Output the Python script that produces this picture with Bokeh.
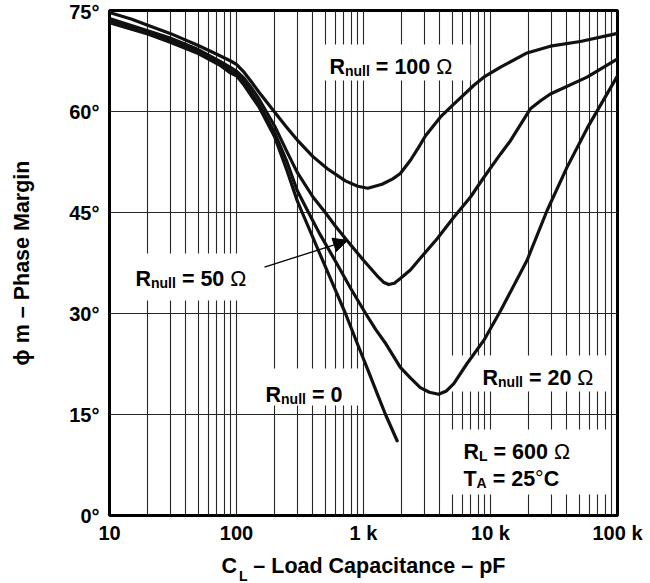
import math
from bokeh.plotting import figure
from bokeh.models import Label, Arrow, NormalHead, FixedTicker
from bokeh.embed import file_html
from bokeh.resources import INLINE

# ---------------- data ----------------
cap_r100 = [10, 15, 20, 30, 50, 70, 90, 100, 115, 130, 150, 200, 250, 300, 400, 520, 720, 900,
            1080, 1400, 1700, 1950, 2350, 2700, 3080, 4040, 5140, 7400, 8850, 12000, 19400, 29600,
            51000, 100000]
phase_r100 = [74.7, 73.7, 72.8, 71.6, 69.8, 68.5, 67.5, 67.0, 65.8, 64.5, 62.9, 59.9, 57.6, 55.8,
              53.3, 51.5, 49.7, 48.9, 48.6, 49.2, 50.0, 50.8, 52.8, 54.6, 56.4, 59.2, 61.1, 63.9,
              65.1, 66.6, 68.7, 69.7, 70.4, 71.6]

cap_r50 = [10, 20, 30, 50, 75, 90, 100, 115, 130, 150, 200, 250, 300, 400, 500, 600, 745, 1000,
           1280, 1450, 1580, 1750, 1950, 2350, 2800, 3800, 5140, 6960, 8850, 12000, 14400, 20600,
           24800, 29600, 57600, 100000]
phase_r50 = [73.8, 72.0, 70.9, 69.2, 67.4, 66.5, 66.0, 64.9, 63.6, 61.9, 57.8, 54.0, 51.0, 47.3,
             45.0, 43.0, 40.8, 37.9, 35.6, 34.6, 34.3, 34.5, 35.2, 36.5, 38.2, 41.1, 44.3, 47.3,
             50.2, 53.7, 55.7, 60.4, 61.6, 62.6, 65.1, 67.8]

cap_r20 = [10, 20, 30, 50, 75, 90, 100, 115, 130, 150, 200, 250, 300, 369, 450, 600, 800, 1040,
           1250, 1500, 1950, 2350, 2800, 3300, 3900, 4500, 5140, 6500, 8850, 12000, 19400,
           27900, 40000, 58000, 100000]
phase_r20 = [73.5, 71.8, 70.6, 68.9, 67.0, 66.0, 65.6, 64.3, 62.9, 61.1, 56.8, 52.5, 48.3, 45.0,
             41.9, 37.8, 33.6, 30.0, 27.6, 25.5, 22.0, 20.4, 19.0, 18.3, 18.0, 18.5, 19.6, 22.5,
             26.0, 30.4, 37.9, 45.3, 51.7, 57.6, 65.3]

cap_r0 = [10, 20, 30, 50, 75, 90, 100, 115, 130, 150, 200, 250, 300, 329, 450, 600, 721, 900,
          1100, 1300, 1490, 1840]
phase_r0 = [73.2, 71.5, 70.3, 68.6, 66.8, 65.7, 65.3, 63.9, 62.4, 60.7, 56.2, 51.2, 46.8, 45.0,
            39.0, 33.5, 30.0, 25.4, 21.3, 17.8, 15.0, 11.1]

x_ticks = [10, 100, 1000, 10000, 100000]
x_tick_labels = ["10", "100", "1 k", "10 k", "100 k"]
y_ticks = [0, 15, 30, 45, 60, 75]
y_tick_labels = ["0°", "15°", "30°", "45°", "60°", "75°"]

curve_label_values = ["100 Ω", "50 Ω", "0", "20 Ω"]

x_title_main = "C"
x_title_sub = "L"
x_title_rest = " – Load Capacitance – pF"
y_title = "ϕ m – Phase Margin"

# ---------------- figure ----------------
FONT = "Liberation Sans"
p = figure(width=650, height=583, x_axis_type="log", x_range=(10, 100000), y_range=(0, 75),
           output_backend="svg", toolbar_location=None,
           min_border_left=109, min_border_right=33, min_border_top=10, min_border_bottom=68)
p.background_fill_color = "white"
p.border_fill_color = "white"
p.outline_line_color = "black"
p.outline_line_width = 3

x_minor = [m * 10 ** e for e in range(1, 5) for m in range(2, 10)]
p.xaxis.ticker = FixedTicker(ticks=x_ticks, minor_ticks=x_minor)
p.yaxis.ticker = FixedTicker(ticks=y_ticks)
p.xaxis.major_label_overrides = {t: s for t, s in zip(x_ticks, x_tick_labels)}
p.yaxis.major_label_overrides = {t: s for t, s in zip(y_ticks, y_tick_labels)}

for ax in (p.xaxis[0], p.yaxis[0]):
    ax.axis_line_color = None
    ax.major_tick_line_color = None
    ax.minor_tick_line_color = None
    ax.major_tick_out = 0
    ax.minor_tick_out = 0
    ax.major_label_text_font = FONT
    ax.major_label_text_font_style = "bold"
    ax.major_label_text_font_size = "20px"
    ax.major_label_text_color = "black"
    ax.axis_label_text_font = FONT
    ax.axis_label_text_font_style = "bold"
    ax.axis_label_text_font_size = "21.5px"
    ax.axis_label_text_color = "black"
p.xaxis.major_label_standoff = 6
p.yaxis.major_label_standoff = 10
# gap (no-break + thin space) that leaves room for the subscript L
p.xaxis.axis_label = x_title_main + "\u00a0\u2009" + x_title_rest
p.xaxis.axis_label_standoff = 7
p.yaxis.axis_label = y_title
p.yaxis.axis_label_standoff = 32

GRID = "#262626"
p.xgrid.grid_line_color = GRID
p.xgrid.grid_line_width = 1.1
p.xgrid.minor_grid_line_color = GRID
p.xgrid.minor_grid_line_width = 1.1
p.ygrid.grid_line_color = GRID
p.ygrid.grid_line_width = 1.1

# ---------------- white boxes behind the texts ----------------
box_x = [1690, 44.6, 365.6, 19900, 19900]
box_y = [67.27, 35.42, 19.08, 21.09, 7.95]
box_w = [156, 133, 105, 160, 162]
box_h = [36, 47, 37, 36, 65]
p.rect(x=box_x, y=box_y, width=box_w, height=box_h, width_units="screen",
       height_units="screen", fill_color="white", line_color=None)

# ---------------- curves ----------------
for cx, cy in ((cap_r100, phase_r100), (cap_r50, phase_r50), (cap_r20, phase_r20), (cap_r0, phase_r0)):
    p.line(cx, cy, line_color="#111111", line_width=3.2, line_join="round", line_cap="round")

# ---------------- text helpers ----------------
WID = {' ': 278, '=': 584, 'R': 722, 'n': 611, 'u': 611, 'l': 278, 'L': 611, 'A': 722,
       'T': 611, 'C': 722, '°': 400, 'Ω': 768, '–': 556, 'o': 611, 'a': 556, 'd': 611,
       'p': 611, 'c': 556, 'i': 278, 't': 333, 'e': 556, 'F': 611}


def tw(s, size):
    return sum(WID.get(ch, 556) for ch in s) * size / 1000.0


def rich(x, y, pieces, size=21.5, sub_size=14, sub_drop=4, xo=0.0, yo=0.0):
    off = xo
    for text, kind in pieces:
        fs = sub_size if kind == "sub" else size
        lead = len(text) - len(text.lstrip(" "))
        off += tw(" " * lead, fs)
        body = text.strip(" ")
        p.add_layout(Label(x=x, y=y, x_offset=off, y_offset=yo - (sub_drop if kind == "sub" else 0),
                           text=body, text_font=FONT,
                           text_font_style="normal" if kind == "thin" else "bold",
                           text_font_size=f"{fs}px", text_color="black",
                           text_baseline="alphabetic", text_align="left"))
        off += tw(text.lstrip(" "), fs)


def rnull(x, y, val):
    pieces = [("R", "main"), ("null", "sub")]
    if val.endswith("Ω"):
        pieces += [(" = " + val[:-1], "main"), ("Ω", "thin")]
    else:
        pieces += [(" = " + val, "main")]
    rich(x, y, pieces)


label_x = [539.6, 16.02, 169.2, 8650]
label_y = [66.58, 35.15, 17.97, 20.35]
for lx, ly, v in zip(label_x, label_y, curve_label_values):
    rnull(lx, ly, v)

rich(6124, 9.36, [("R", "main"), ("L", "sub"), (" = 600 ", "main"), ("Ω", "thin")])
rich(6124, 5.49, [("T", "main"), ("A", "sub"), (" = 25", "main"), ("°", "thin"), ("C", "main")])

# arrow for R_null = 50 Ω
p.add_layout(Arrow(end=NormalHead(size=14, fill_color="black", line_color="black", line_width=1),
                   x_start=166.2, y_start=36.87, x_end=748, y_end=40.84,
                   line_color="black", line_width=1.3))

# subscript of the x-axis title, in a side panel so that it is not clipped
p.add_layout(Label(x=104.5, y=0, y_offset=-60.5, text=x_title_sub, text_font=FONT,
                   text_font_style="bold", text_font_size="14px", text_color="black",
                   text_baseline="alphabetic", text_align="left"), "right")

open("out.html", "w").write(file_html(p, INLINE))
